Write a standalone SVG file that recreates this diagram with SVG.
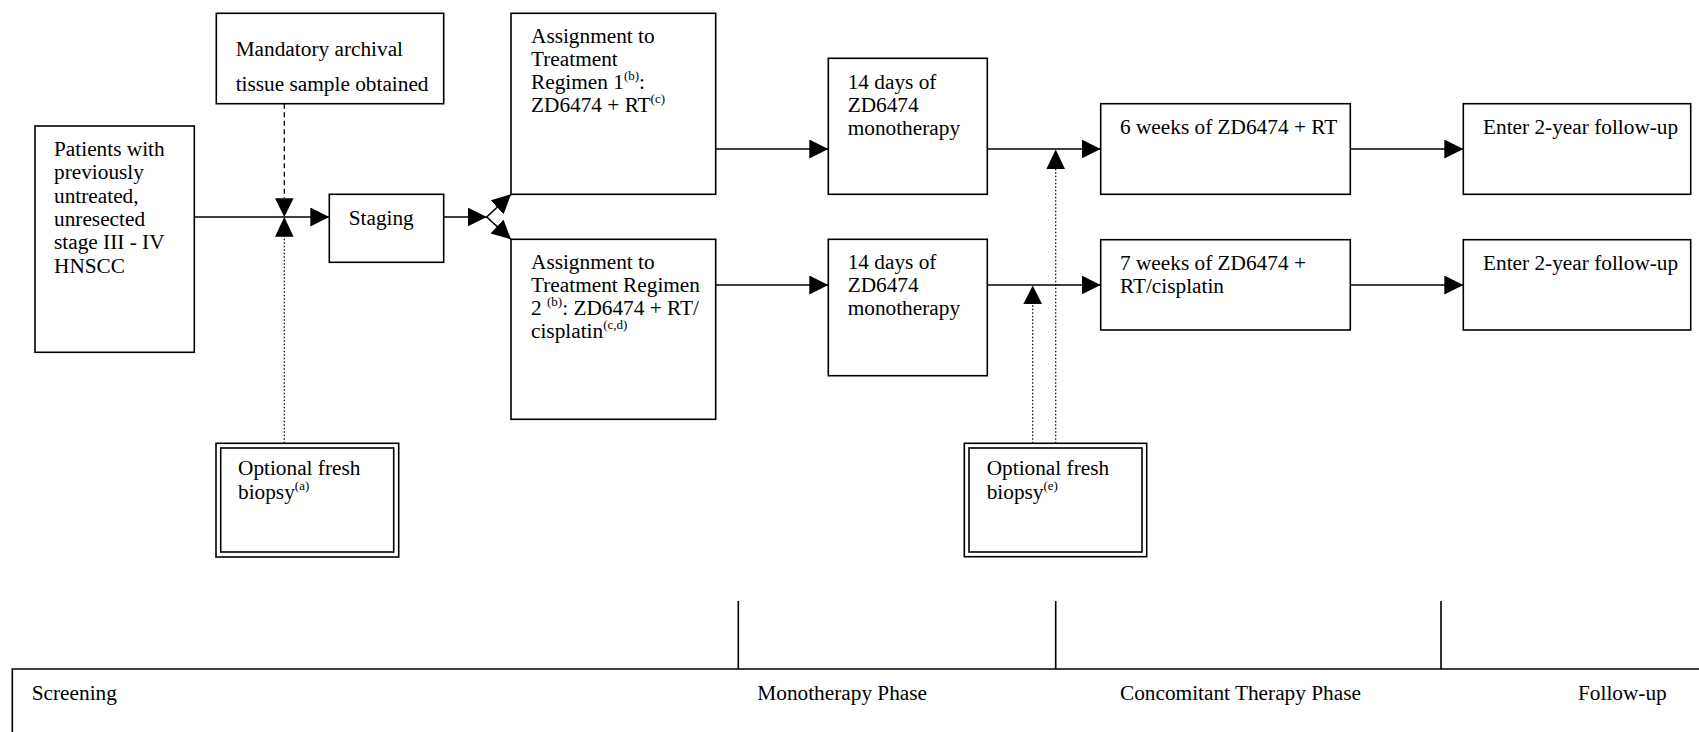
<svg xmlns="http://www.w3.org/2000/svg" width="1699" height="732" viewBox="0 0 1699 732">
<style>
text{font-family:"Liberation Serif","Times New Roman",serif;font-size:21.3px;fill:#000}
.sup{font-size:13px}
.box{fill:#fff;stroke:#000;stroke-width:1.6}
.ln{fill:none;stroke:#000;stroke-width:1.6}
.dash{fill:none;stroke:#000;stroke-width:1.3;stroke-dasharray:5 3.5}
.dot{fill:none;stroke:#000;stroke-width:1.2;stroke-dasharray:1.5 2}
</style>
<defs>
<marker id="ah" markerUnits="userSpaceOnUse" markerWidth="20" markerHeight="20" refX="19" refY="9.5" orient="auto" viewBox="0 0 20 20">
<path d="M0,0 L19,9.5 L0,19 z" fill="#000"/>
</marker>
</defs>
<rect width="1699" height="732" fill="#fff"/>

<g id="connectors">
<path class="ln" d="M194.3,217 H329.3" marker-end="url(#ah)"/>
<path class="dash" d="M284.3,103.7 V198"/>
<path d="M275,198.3 L293.6,198.3 L284.3,217 z" fill="#000"/>
<path class="dot" d="M284.3,443.3 V236"/>
<path d="M275,236.7 L293.6,236.7 L284.3,217 z" fill="#000"/>
<path class="ln" d="M443.7,217 H486.7" marker-end="url(#ah)"/>
<path class="ln" d="M486.7,217 L511,194.3" marker-end="url(#ah)"/>
<path class="ln" d="M486.7,217 L511,239.3" marker-end="url(#ah)"/>
<path class="ln" d="M715.7,149 H828.3" marker-end="url(#ah)"/>
<path class="ln" d="M715.7,285 H828.3" marker-end="url(#ah)"/>
<path class="ln" d="M987.3,149 H1100.7" marker-end="url(#ah)"/>
<path class="ln" d="M987.3,285 H1100.7" marker-end="url(#ah)"/>
<path class="dot" d="M1055.7,443.3 V168"/>
<path d="M1046.4,169 L1065,169 L1055.7,149.5 z" fill="#000"/>
<path class="dot" d="M1032.7,443.3 V303"/>
<path d="M1023.4,304 L1042,304 L1032.7,285.5 z" fill="#000"/>
<path class="ln" d="M1350.3,149 H1463.3" marker-end="url(#ah)"/>
<path class="ln" d="M1350.3,285 H1463.3" marker-end="url(#ah)"/>
</g>

<g id="patients">
<rect class="box" x="35" y="126" width="159.3" height="226.3"/>
<text x="54" y="156">Patients with</text>
<text x="54" y="179.3">previously</text>
<text x="54" y="202.6">untreated,</text>
<text x="54" y="225.9">unresected</text>
<text x="54" y="249.2">stage III - IV</text>
<text x="54" y="272.5">HNSCC</text>
</g>

<g id="mandatory">
<rect class="box" x="216.3" y="13.3" width="227.4" height="90.4"/>
<text x="235.7" y="56">Mandatory archival</text>
<text x="235.7" y="90.7">tissue sample obtained</text>
</g>

<g id="staging">
<rect class="box" x="329.3" y="194.3" width="114.4" height="68"/>
<text x="348.7" y="225">Staging</text>
</g>

<g id="biopsy-a">
<rect class="box" x="216" y="443.3" width="182.7" height="113.7" stroke-width="1.5"/>
<rect class="box" x="220.7" y="448" width="173" height="104" stroke-width="2.2"/>
<text x="238" y="475">Optional fresh</text>
<text x="238" y="499">biopsy<tspan class="sup" dy="-9">(a)</tspan></text>
</g>

<g id="regimen1">
<rect class="box" x="511" y="13.3" width="204.7" height="181"/>
<text x="531" y="42.5">Assignment to</text>
<text x="531" y="65.5">Treatment</text>
<text x="531" y="88.5">Regimen 1<tspan class="sup" dy="-9">(b)</tspan><tspan dy="9">:</tspan></text>
<text x="531" y="111.5">ZD6474 + RT<tspan class="sup" dy="-9">(c)</tspan></text>
</g>

<g id="regimen2">
<rect class="box" x="511" y="239.3" width="204.7" height="180"/>
<text x="531" y="269">Assignment to</text>
<text x="531" y="292">Treatment Regimen</text>
<text x="531" y="315">2 <tspan class="sup" dy="-9">(b)</tspan><tspan dy="9">: ZD6474 + RT/</tspan></text>
<text x="531" y="338">cisplatin<tspan class="sup" dy="-9">(c,d)</tspan></text>
</g>

<g id="mono1">
<rect class="box" x="828.3" y="58.3" width="159" height="136"/>
<text x="847.7" y="88.5">14 days of</text>
<text x="847.7" y="111.5">ZD6474</text>
<text x="847.7" y="134.5">monotherapy</text>
</g>

<g id="mono2">
<rect class="box" x="828.3" y="239.3" width="159" height="136.4"/>
<text x="847.7" y="269">14 days of</text>
<text x="847.7" y="292">ZD6474</text>
<text x="847.7" y="315">monotherapy</text>
</g>

<g id="biopsy-e">
<rect class="box" x="964.3" y="443.3" width="182.4" height="113.4" stroke-width="1.5"/>
<rect class="box" x="969" y="448" width="173" height="104" stroke-width="2.2"/>
<text x="986.7" y="475">Optional fresh</text>
<text x="986.7" y="499">biopsy<tspan class="sup" dy="-9">(e)</tspan></text>
</g>

<g id="conc1">
<rect class="box" x="1100.7" y="103.7" width="249.6" height="90.6"/>
<text x="1120" y="134.3">6 weeks of ZD6474 + RT</text>
</g>

<g id="conc2">
<rect class="box" x="1100.7" y="239.7" width="249.6" height="90.3"/>
<text x="1120" y="270">7 weeks of ZD6474 +</text>
<text x="1120" y="293.3">RT/cisplatin</text>
</g>

<g id="follow1">
<rect class="box" x="1463.3" y="103.7" width="227.4" height="90.6"/>
<text x="1483" y="134.3">Enter 2-year follow-up</text>
</g>

<g id="follow2">
<rect class="box" x="1463.3" y="239.7" width="227.4" height="90.3"/>
<text x="1483" y="270">Enter 2-year follow-up</text>
</g>

<g id="phases">
<path class="ln" d="M12.3,740 V669 H1705"/>
<path class="ln" d="M738.3,601 V669 M1055.7,601 V669 M1441,601 V669"/>
<text x="31.7" y="700">Screening</text>
<text x="757.3" y="700">Monotherapy Phase</text>
<text x="1120" y="700">Concomitant Therapy Phase</text>
<text x="1578" y="700">Follow-up</text>
</g>
</svg>
